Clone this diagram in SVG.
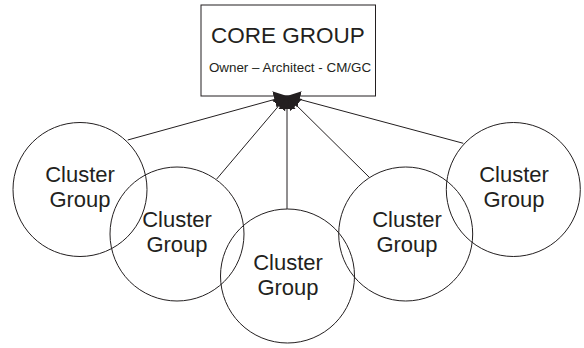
<svg xmlns="http://www.w3.org/2000/svg" width="584" height="348" viewBox="0 0 584 348">
  <style>
    .box { fill: #ffffff; stroke: #231f20; stroke-width: 1; }
    .ring { fill: none; stroke: #231f20; stroke-width: 1; }
    .link { fill: none; stroke: #231f20; stroke-width: 1; marker-end: url(#head); }
    .lbl { font-family: "Liberation Sans", Arial, sans-serif; fill: #231f20; text-anchor: middle; }
    .big { font-size: 22px; }
    .title { font-size: 22.5px; }
    .sub { font-size: 13.4px; }
  </style>
  <defs>
    <marker id="head" markerUnits="userSpaceOnUse" viewBox="0 -9 13 18" refX="13" refY="0" markerWidth="13" markerHeight="18" orient="auto">
      <path d="M0,-8.5 L13,0 L0,8.5 Z" fill="#231f20"/>
    </marker>
  </defs>
  <rect width="584" height="348" fill="#ffffff"/>

  <g id="core-group">
    <rect class="box" x="201" y="5" width="174.5" height="91"/>
    <text class="lbl title" x="288" y="43">CORE GROUP</text>
    <text class="lbl sub" x="290" y="71.5">Owner – Architect - CM/GC</text>
  </g>

  <!-- connectors: every cluster links up to the core group -->
  <g id="connectors">
    <line class="link" x1="127.7" y1="140" x2="287" y2="96"/>
    <line class="link" x1="216.7" y1="179" x2="287" y2="96"/>
    <line class="link" x1="287" y1="209" x2="287" y2="96"/>
    <line class="link" x1="369.3" y1="177.3" x2="287" y2="96"/>
    <line class="link" x1="463.3" y1="143.3" x2="287" y2="96"/>
  </g>

  <g id="cluster-1">
    <circle class="ring" cx="80" cy="189.5" r="67"/>
    <text class="lbl big" x="80" y="182">Cluster</text>
    <text class="lbl big" x="80" y="207">Group</text>
  </g>
  <g id="cluster-2">
    <circle class="ring" cx="177" cy="234" r="67"/>
    <text class="lbl big" x="177" y="226.5">Cluster</text>
    <text class="lbl big" x="177" y="252">Group</text>
  </g>
  <g id="cluster-3">
    <circle class="ring" cx="287.5" cy="276" r="67"/>
    <text class="lbl big" x="288" y="270">Cluster</text>
    <text class="lbl big" x="288" y="295">Group</text>
  </g>
  <g id="cluster-4">
    <circle class="ring" cx="405.7" cy="234" r="67"/>
    <text class="lbl big" x="407" y="226.5">Cluster</text>
    <text class="lbl big" x="407" y="251.7">Group</text>
  </g>
  <g id="cluster-5">
    <circle class="ring" cx="513.3" cy="189.5" r="67"/>
    <text class="lbl big" x="514" y="182">Cluster</text>
    <text class="lbl big" x="514" y="207">Group</text>
  </g>
</svg>
